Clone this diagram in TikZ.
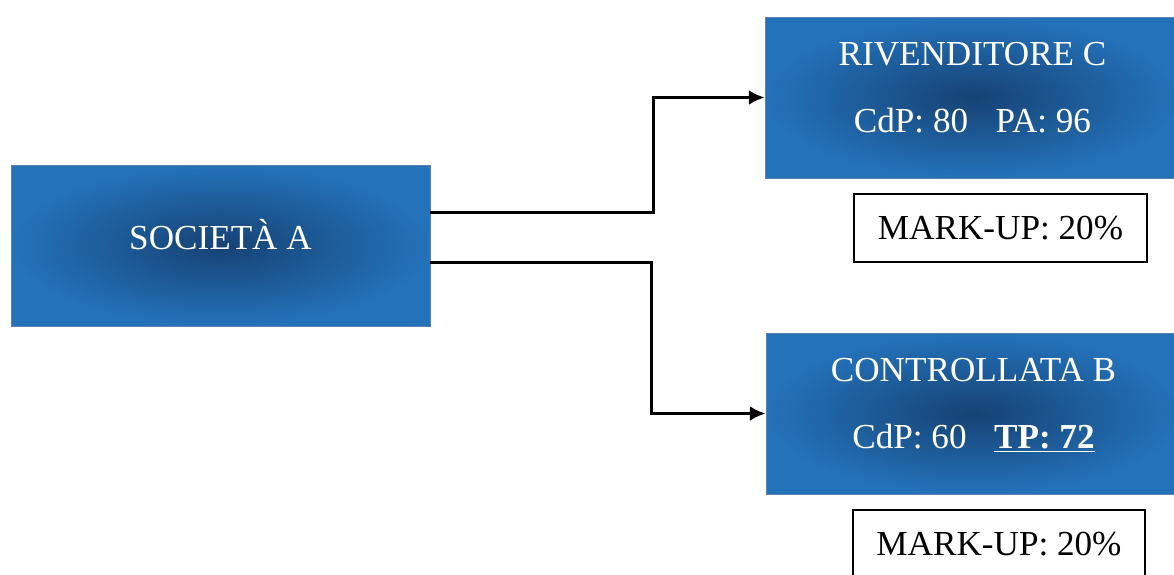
\documentclass[tikz,border=0pt]{standalone}
\usepackage{fontspec}
\setmainfont{Liberation Serif}
\usetikzlibrary{arrows.meta,positioning}
\definecolor{boxdark}{RGB}{22,66,116}
\definecolor{boxlight}{RGB}{36,114,186}
\definecolor{boxedge}{RGB}{90,130,170}
\tikzset{company/.style={
            draw=boxedge,
            line width=0.4pt,
            shading=radial,
            inner color=boxdark,
            outer color=boxlight,
            text=white,
            align=center,
            inner sep=0pt,
            text depth=0.42cm,
            minimum width=8.3cm,
            minimum height=3.22cm,
            font=\fontsize{20}{38}\selectfont
        },
        notebox/.style={
            draw=black,
            line width=1pt,
            fill=white,
            inner sep=0pt,
            minimum width=5.85cm,
            minimum height=1.36cm,
            font=\fontsize{20}{24}\selectfont
        },
        link/.style={
            line width=1.7pt,
            -{Latex[length=9pt,width=8.5pt]}
        }
    }

\begin{document}
\begin{tikzpicture}
        \clip (0,0) rectangle (23.48,-11.48);
        \fill[white] (0,0) rectangle (23.48,-11.48);

        \node[company, minimum width=8.38cm, text depth=0.45cm] (societa) at (4.41,-4.91) {SOCIETÀ A};
        \node[company] (rivenditore) at (19.45,-1.95) {RIVENDITORE C\\CdP: 80\hspace{0.55cm}PA: 96};
        \node[company] (controllata) at (19.47,-8.27) {CONTROLLATA B\\CdP: 60\hspace{0.55cm}\underline{\textbf{TP: 72}}};

        \node[notebox] (markupc) at (20.01,-4.56) {MARK-UP: 20\%};
        \node[notebox] (markupb) at (19.98,-10.88) {MARK-UP: 20\%};

        \draw[link] ([yshift=0.67cm]societa.east) -- ++(4.46,0) |- (rivenditore.west);
        \draw[link] ([yshift=-0.33cm]societa.east) -- ++(4.42,0) |- (controllata.west);

    \end{tikzpicture}
\end{document}
